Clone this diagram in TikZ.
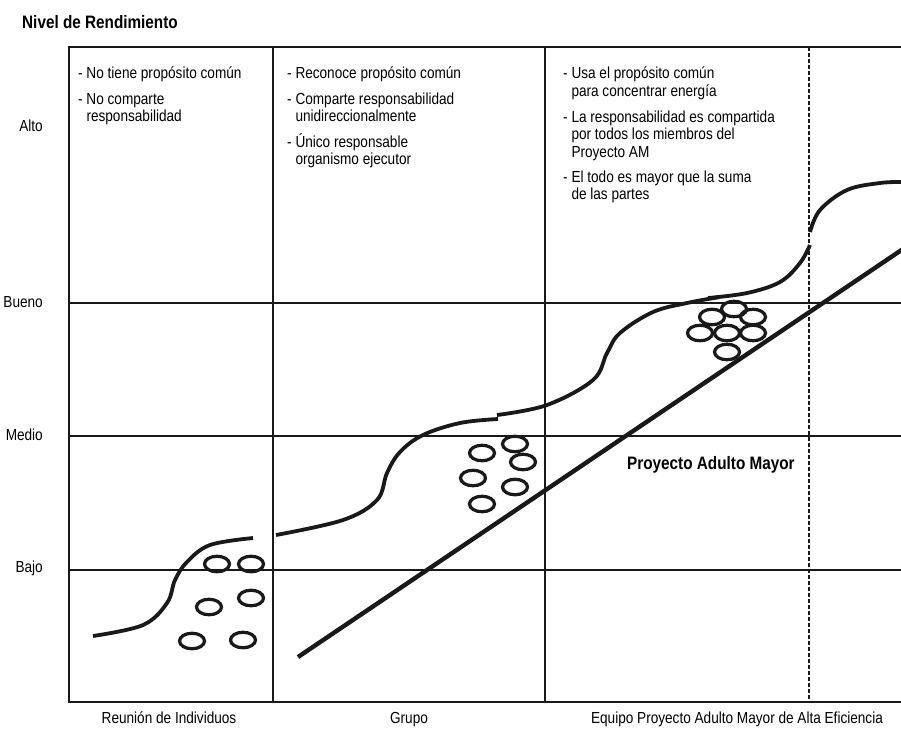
\documentclass[tikz,border=0pt]{standalone}
\usepackage{fontspec}
\setmainfont{Liberation Sans}[FakeStretch=0.85]
\usetikzlibrary{shapes.geometric}
\begin{document}
\begin{tikzpicture}[x=1pt,y=-1pt,
  txt/.style={inner sep=0pt,anchor=base west,font=\fontsize{16}{18}\selectfont},
  lab/.style={inner sep=0pt,anchor=base east,font=\fontsize{16}{18}\selectfont},
  bot/.style={inner sep=0pt,anchor=base,font=\fontsize{16}{18}\selectfont},
  grid/.style={line width=1.6pt,black!90},
  curve/.style={line width=3.8pt,black!90},
  person/.style={draw=black!90,line width=3.2pt,ellipse,minimum width=25pt,minimum height=15.5pt,inner sep=0pt},
  trend/.style={line width=4.4pt,black!90}]
\useasboundingbox (0,0) rectangle (901,729);
% grid
\draw[grid] (901,47) -- (69,47) -- (69,702) -- (901,702);
\draw[grid] (273,47) -- (273,702);
\draw[grid] (545,47) -- (545,702);
\draw[grid] (69,303) -- (901,303);
\draw[grid] (69,436) -- (901,436);
\draw[grid] (69,570) -- (901,570);
\draw[line width=1.8pt,black!90,dash pattern=on 4pt off 2pt] (809,47) -- (809,702);
% title
\node[inner sep=0pt,anchor=base west,font=\bfseries\fontsize{18}{20}\selectfont] (title) at (22,28) {Nivel de Rendimiento};
% axis labels
\node[lab] (alto) at (43,131) {Alto};
\node[lab] (bueno) at (43,307) {Bueno};
\node[lab] (medio) at (43,440) {Medio};
\node[lab] (bajo) at (43,572) {Bajo};
% bottom labels
\node[bot] (b1) at (169,723) {Reunión de Individuos};
\node[bot] (b2) at (409,723) {Grupo};
\node[bot] (b3) at (737,723) {Equipo Proyecto Adulto Mayor de Alta Eficiencia};
% column 1
\node[txt] (c1a) at (78,78.5) {- No tiene propósito común};
\node[txt] (c1b) at (78,104) {- No comparte};
\node[txt] (c1c) at (78,121.5) {\phantom{- }responsabilidad};
% column 2
\node[txt] (c2a) at (287,78.5) {- Reconoce propósito común};
\node[txt] (c2b) at (287,104) {- Comparte responsabilidad};
\node[txt] (c2c) at (287,121.5) {\phantom{- }unidireccionalmente};
\node[txt] (c2d) at (287,147) {- Único responsable};
\node[txt] (c2e) at (287,164.5) {\phantom{- }organismo ejecutor};
% column 3
\node[txt] (c3a) at (563,78.5) {- Usa el propósito común};
\node[txt] (c3b) at (563,96) {\phantom{- }para concentrar energía};
\node[txt] (c3c) at (563,122) {- La responsabilidad es compartida};
\node[txt] (c3d) at (563,139.5) {\phantom{- }por todos los miembros del};
\node[txt] (c3e) at (563,157) {\phantom{- }Proyecto AM};
\node[txt] (c3f) at (563,182) {- El todo es mayor que la suma};
\node[txt] (c3g) at (563,199.5) {\phantom{- }de las partes};
% project label
\node[inner sep=0pt,anchor=base west,font=\bfseries\fontsize{18}{20}\selectfont] (proj) at (627,469) {Proyecto Adulto Mayor};
% trend line
\coordinate (t0) at (298,657);
\coordinate (t1) at (903,249);
\draw[trend] (t0) -- (t1);
% curves
\draw[curve] plot[smooth,tension=0.6] coordinates {(93,636) (143,625) (167,603) (175,580) (187,562) (210,545) (253,538)};
\draw[curve] plot[smooth,tension=0.6] coordinates {(276,535) (343,520) (377,500) (387,473) (400,452) (423,435) (460,423) (498,419)};
\draw[curve] plot[smooth,tension=0.6] coordinates {(497,415) (547,405) (593,380) (607,353) (620,333) (653,312) (687,303) (720,297)};
\draw[curve] plot[smooth,tension=0.6] coordinates {(708,298) (747,293) (780,282) (800,263) (810,245)};
\draw[curve] plot[smooth,tension=0.6] coordinates {(810,232) (820,210) (847,190) (880,183) (903,182)};
% people group 1
\node[person] (p11) at (217,564) {};
\node[person] (p12) at (251,564) {};
\node[person] (p13) at (251,598) {};
\node[person] (p14) at (209,607) {};
\node[person] (p15) at (192,641) {};
\node[person] (p16) at (243,640) {};
% people group 2
\node[person] (p21) at (515,444) {};
\node[person] (p22) at (482,453) {};
\node[person] (p23) at (523,462) {};
\node[person] (p24) at (473,478) {};
\node[person] (p25) at (515,487) {};
\node[person] (p26) at (482,504) {};
% people group 3
\node[person] (p31) at (734,309) {};
\node[person] (p32) at (712,317) {};
\node[person] (p33) at (753,317) {};
\node[person] (p34) at (700,333) {};
\node[person] (p35) at (727,333) {};
\node[person] (p36) at (753,333) {};
\node[person] (p37) at (727,352) {};
\end{tikzpicture}
\end{document}
